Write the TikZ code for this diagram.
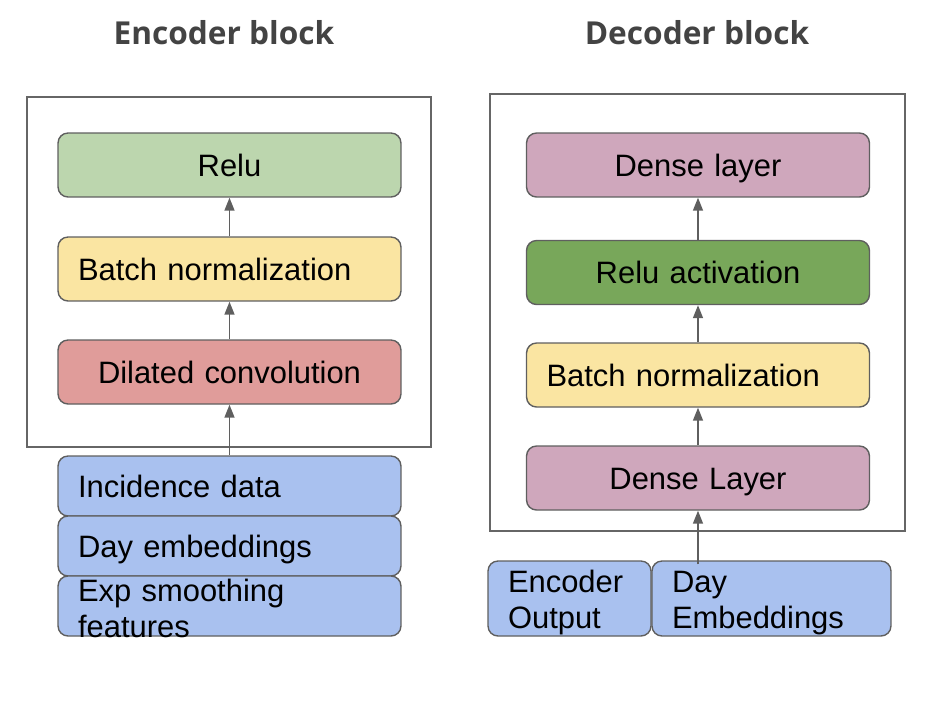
\documentclass[tikz,border=0pt]{standalone}
\usepackage{fontspec}
\setmainfont{Liberation Sans}
\newfontfamily\titlefont{Open Sans}
\usetikzlibrary{arrows.meta, positioning, calc}

\definecolor{linegray}{HTML}{5F5F5F}
\definecolor{framegray}{HTML}{666666}
\definecolor{titlegray}{HTML}{434343}
\definecolor{relugreen}{HTML}{BCD6AE}
\definecolor{darkgreen}{HTML}{78A75A}
\definecolor{bnyellow}{HTML}{FAE5A2}
\definecolor{convred}{HTML}{E09C9A}
\definecolor{inblue}{HTML}{A9C1EF}
\definecolor{densemauve}{HTML}{CFA7BC}

\begin{document}
\begin{tikzpicture}[x=0.02cm, y=-0.02cm, >={Triangle[length=0.26cm,width=0.2cm]},
    layer/.style={draw=linegray, line width=0.8pt, rounded corners=0.2cm,
      minimum width=6.86cm, minimum height=1.28cm, text width=6.06cm,
      inner xsep=0.4cm, inner ysep=0pt, text height=12.6pt, text depth=0pt,
      align=center, font=\fontsize{17.6}{20.4}\selectfont},
    lefttext/.style={align=left},
    title/.style={font=\titlefont\bfseries\fontsize{18}{22}\selectfont, text=titlegray},
    frame/.style={draw=framegray, line width=0.8pt},
    flow/.style={->, draw=linegray, line width=0.85pt}]

    \useasboundingbox (0,0) rectangle (938,704);

    % encoder
    \node[title] (enctitle) at (224,33) {Encoder block};
    \draw[frame] (27,97) rectangle (431,447);

    \node[layer, fill=relugreen] (relu) at (229.5,165) {Relu};
    \node[layer, lefttext, fill=bnyellow] (bnorm) at (229.5,269) {Batch normalization};
    \node[layer, fill=convred] (dconv) at (229.5,372) {Dilated convolution};

    \node[layer, lefttext, fill=inblue, minimum height=1.2cm] (incid) at (229.5,486) {Incidence data};
    \node[layer, lefttext, fill=inblue, minimum height=1.2cm] (dayemb) at (229.5,546) {Day embeddings};
    \node[layer, lefttext, fill=inblue, minimum height=1.2cm, text height=14.7pt, text depth=19.3pt] (expsm) at (229.5,606) {Exp smoothing\\features};

    \draw[flow] (bnorm) -- (relu);
    \draw[flow] (dconv) -- (bnorm);
    \draw[flow] (incid) -- (dconv);

    % decoder
    \node[title] (dectitle) at (697,33) {Decoder block};
    \draw[frame] (490,94) rectangle (905,531);

    \node[layer, fill=densemauve, minimum width=6.84cm] (dense2) at (698,165) {Dense layer};
    \node[layer, fill=darkgreen, minimum width=6.84cm] (relua) at (698,272.5) {Relu activation};
    \node[layer, lefttext, fill=bnyellow, minimum width=6.84cm] (bnorm2) at (698,375) {Batch normalization};
    \node[layer, fill=densemauve, minimum width=6.84cm] (dense1) at (698,478) {Dense Layer};

    \node[layer, lefttext, fill=inblue, minimum width=3.26cm, text width=2.46cm,
      minimum height=1.5cm, text height=18.1pt, text depth=24.4pt] (encout) at (569.5,598.5) {Encoder\\Output};
    \node[layer, lefttext, fill=inblue, minimum width=4.78cm, text width=3.98cm,
      minimum height=1.5cm, text height=18.1pt, text depth=24.4pt] (demb) at (771.5,598.5) {Day\\Embeddings};

    \draw[flow] (relua) -- (dense2);
    \draw[flow] (bnorm2) -- (relua);
    \draw[flow] (dense1) -- (bnorm2);
    \draw[flow] ($(dense1.south |- demb.north)+(0,4)$) -- (dense1);
\end{tikzpicture}
\end{document}
